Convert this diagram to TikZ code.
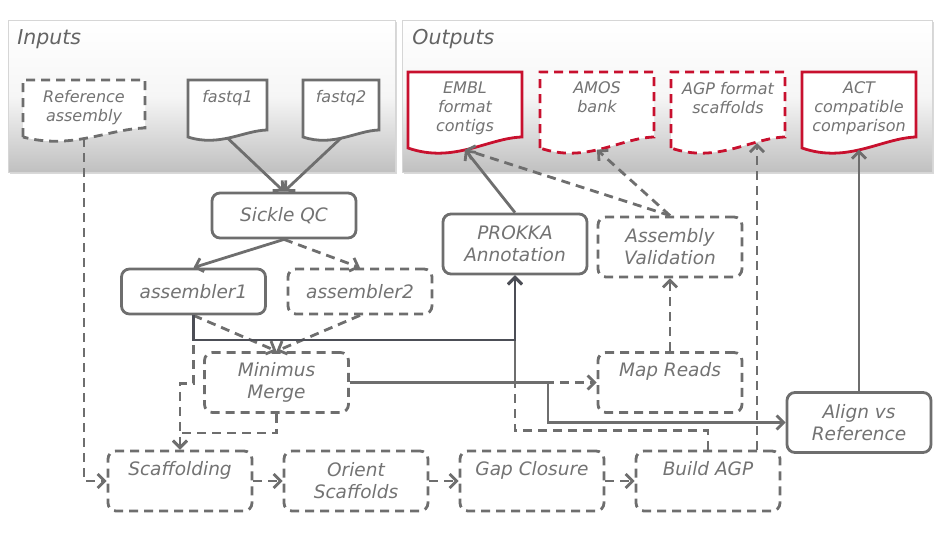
\documentclass[tikz,border=0pt]{standalone}
\usepackage{fontspec}
\setmainfont{DejaVu Sans}
\usepackage{tikz}
\usetikzlibrary{arrows.meta,positioning,calc,shadows}

\definecolor{linegray}{RGB}{110,110,110}
\definecolor{textgray}{RGB}{115,115,115}
\definecolor{titlegray}{RGB}{100,100,100}
\definecolor{darkline}{RGB}{76,78,86}
\definecolor{outred}{RGB}{200,16,46}
\definecolor{panelgray}{RGB}{192,192,192}
\definecolor{panelmid}{RGB}{246,246,246}
\definecolor{panelrim}{RGB}{214,214,214}

\tikzset{
  panel/.style={draw=panelrim, line width=0.8pt, top color=white,
    bottom color=panelgray, middle color=panelmid, minimum height=152pt,
    drop shadow={shadow xshift=2pt, shadow yshift=-2pt, opacity=0.3}},
  paneltitle/.style={anchor=base west, inner sep=0pt, text=titlegray,
    font=\fontsize{20.5}{24}\selectfont\itshape},
  doctext/.style={anchor=north, align=center, inner xsep=0pt, inner ysep=8.5pt,
    text=textgray, font=\fontsize{16}{19}\selectfont\itshape},
  docframe/.style={draw=linegray, fill=white, line width=2.8pt},
  reddoc/.style={draw=outred},
  dashbox/.style={dash pattern=on 9pt off 6pt},
  proc/.style={draw=linegray, line width=2.8pt, rounded corners=8pt, fill=white,
    minimum width=144pt, minimum height=45pt, align=center, inner sep=3pt,
    text=textgray, font=\fontsize{18.5}{22}\selectfont\itshape},
  tall/.style={minimum height=60pt},
  topline/.style={text height=14pt, text depth=26pt}
}

% document shape: name, top centre, width, height, rise of the wave
\newcommand{\docnode}[7][]{%
  \coordinate (#2-top) at #3;
  \draw[docframe,#1] ($(#2-top)+(-#4/2,#5)$) -- ($(#2-top)+(-#4/2,0)$)
    -- ($(#2-top)+(#4/2,0)$) -- ($(#2-top)+(#4/2,#5-#6)$)
    .. controls ($(#2-top)+(0.2*#4,#5-0.9*#6)$) and ($(#2-top)+(-0.1*#4,#5+1.45*#6)$)
    .. ($(#2-top)+(-#4/2,#5)$) -- cycle;
  \node[doctext] (#2) at (#2-top) {#7};
  \coordinate (#2-wave) at ($(#2-top)+(0,#5+0.15*#6)$);
}

\begin{document}
\begin{tikzpicture}[x=1pt,y=-1pt,>={Straight Barb[length=7pt,width=14pt]},
    color=linegray,line width=2.8pt,node distance=176pt]

  \useasboundingbox (0,0) rectangle (943,538);

  % panels
  \node[panel, minimum width=387pt] (inbox) at (201.5,96) {};
  \node[panel, minimum width=530pt] (outbox) at (667,96) {};
  \node[paneltitle] (intitle) at (16,45) {Inputs};
  \node[paneltitle] (outtitle) at (411,45) {Outputs};

  % inputs
  \docnode[dashbox]{refasm}{(84,80)}{122}{57}{9}{Reference\\assembly}
  \docnode{fastq1}{(227.5,80)}{79}{57}{7}{fastq1}
  \docnode{fastq2}{(341,80)}{76}{57}{7}{fastq2}

  % outputs
  \docnode[reddoc]{embl}{(465,72)}{114}{76}{11}{EMBL\\format\\contigs}
  \docnode[reddoc,dashbox]{amos}{(597,72)}{114}{76}{11}{AMOS\\bank}
  \docnode[reddoc,dashbox]{agp}{(728,72)}{114}{76}{11}{AGP format\\scaffolds}
  \docnode[reddoc]{act}{(859,72)}{114}{76}{11}{ACT\\compatible\\comparison}
  \coordinate (agp-in) at ([xshift=29pt,yshift=6.5pt]agp-wave);

  % pipeline steps
  \node[proc] (sickle) at (284,215.5) {Sickle QC};
  \node[proc] (asm1) at (193.5,291.5) {assembler1};
  \node[proc,dashbox] (asm2) at (360,291.5) {assembler2};
  \node[proc,tall] (prokka) at (515,244) {PROKKA\\Annotation};
  \node[proc,tall,dashbox] (valid) at (670,247) {Assembly\\Validation};
  \node[proc,tall,dashbox] (minimus) at (276.5,382.5) {Minimus\\Merge};
  \node[proc,tall,dashbox,topline] (mapreads) at (670,382.5) {Map Reads};
  \node[proc,tall] (align) at (859,422.5) {Align vs\\Reference};
  \node[proc,tall,dashbox,topline] (scaf) at (180,481) {Scaffolding};
  \node[proc,tall,dashbox] (orient) [right of=scaf] {Orient\\Scaffolds};
  \node[proc,tall,dashbox,topline] (gap) [right of=orient] {Gap Closure};
  \node[proc,tall,dashbox,topline] (buildagp) [right of=gap] {Build AGP};

  % connectors
  \draw[->] (fastq1-wave) -- (sickle.north);
  \draw[->] (fastq2-wave) -- (sickle.north);
  \draw[->] (sickle.south) -- (asm1.north);
  \draw[->,dashbox] (sickle.south) -- (asm2.north);
  \draw[->,dashbox] (refasm-wave) |- (scaf.west);
  \draw[->,dashbox] (asm1.south) -- (minimus.north);
  \draw[->,dashbox] (asm2.south) -- (minimus.north);
  \draw[->,dashbox] (asm1.south) -- ++(0,68) -| (scaf.north);
  \draw[->,dashbox] (minimus.south) -- ++(0,19) -| (scaf.north);
  \draw[->,dashbox] (minimus.east) -- (mapreads.west);
  \draw[->] (minimus.east) -- ++(198,0) |- (align.west);
  \draw[->] (minimus.east) -| (prokka.south);
  \draw[->,dashbox] (buildagp.north) -- ++(0,-19) -| (prokka.south);
  \draw[->,darkline] (asm1.south) -- ++(0,24.5) -| (prokka.south);
  \draw[->,dashbox] (mapreads.north) -- (valid.south);
  \draw[->,dashbox] (valid.north) -- (embl-wave);
  \draw[->,dashbox] (valid.north) -- (amos-wave);
  \draw[->] (prokka.north) -- (embl-wave);
  \draw[->,dashbox] (buildagp.north east -| agp-in) -- (agp-in);
  \draw[->] (align.north) -- (act-wave);
  \draw[->,dashbox] (scaf.east) -- (orient.west);
  \draw[->,dashbox] (orient.east) -- (gap.west);
  \draw[->,dashbox] (gap.east) -- (buildagp.west);

\end{tikzpicture}
\end{document}
